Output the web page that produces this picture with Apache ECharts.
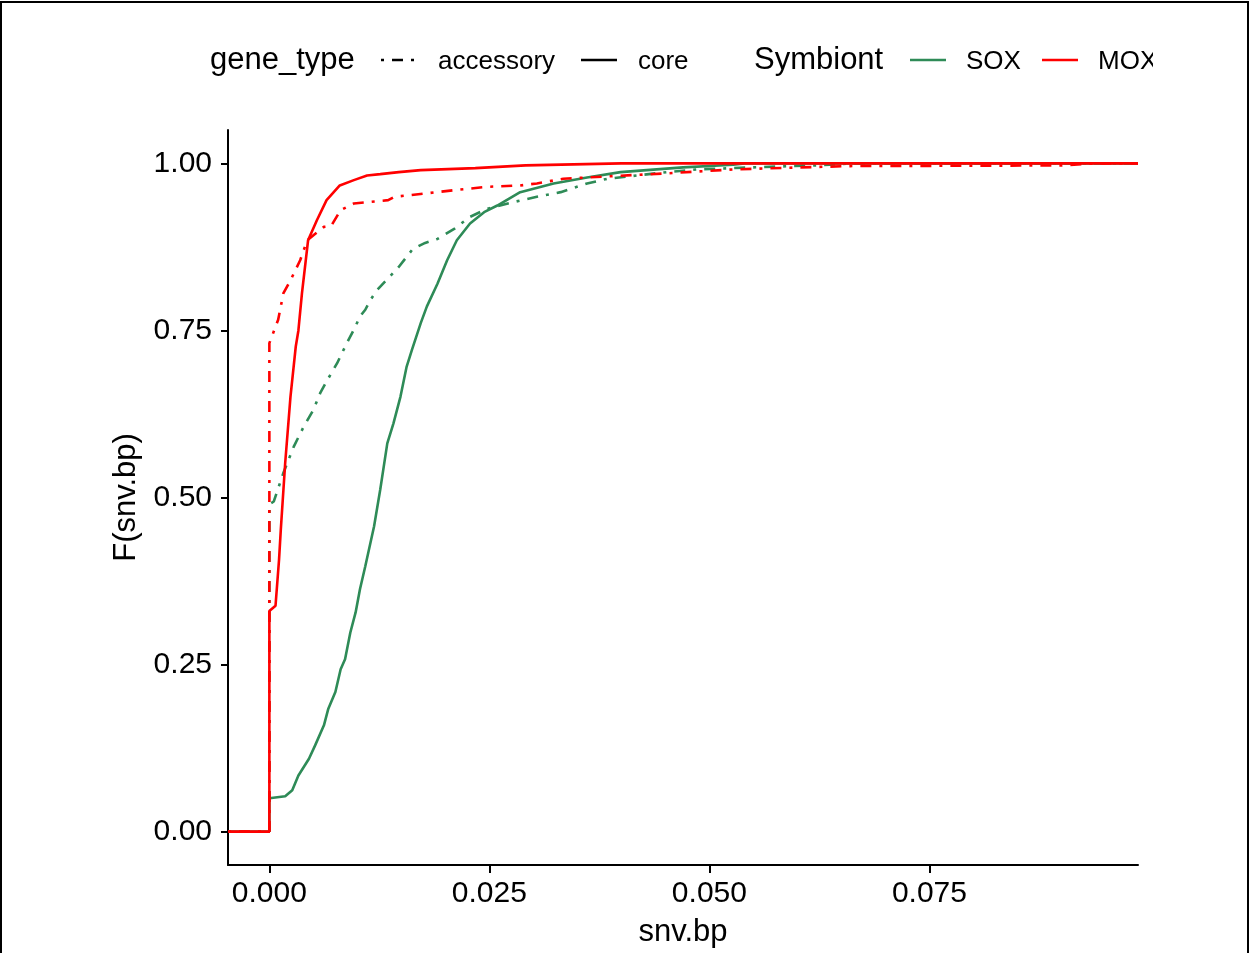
<!DOCTYPE html>
<html>
<head>
<meta charset="utf-8">
<script src="https://cdn.jsdelivr.net/npm/echarts@6/dist/echarts.min.js"></script>
<style>
  html, body { margin: 0; padding: 0; background: #fff; }
  #chart { width: 1249px; height: 953px; }
  #frame { position: absolute; left: 0; top: 1px; width: 1249px; height: 960px; box-sizing: border-box; border: 2px solid #000; pointer-events: none; }
</style>
</head>
<body>
<div id="chart"></div>
<div id="frame"></div>
<script>
// ECDF of snv.bp (x = snv.bp, y = F(snv.bp))
const X_MIN = -0.0047;
const X_MAX = 0.0987;

const soxCore = [
  [0, 0], [0, 0.05], [0.0018, 0.053], [0.0026, 0.062], [0.0033, 0.084], [0.0045, 0.109],
  [0.0052, 0.129], [0.0062, 0.159], [0.0067, 0.184], [0.0075, 0.209], [0.0081, 0.243],
  [0.0086, 0.258], [0.0092, 0.298], [0.0098, 0.328], [0.0103, 0.363], [0.0109, 0.397],
  [0.0119, 0.457], [0.0126, 0.512], [0.0134, 0.581], [0.0141, 0.611], [0.0149, 0.651],
  [0.0156, 0.696], [0.0162, 0.721], [0.0172, 0.761], [0.0179, 0.786], [0.0191, 0.82],
  [0.0202, 0.855], [0.0213, 0.885], [0.0228, 0.91], [0.0244, 0.927], [0.0259, 0.937],
  [0.0285, 0.957], [0.0323, 0.97], [0.0361, 0.979], [0.0399, 0.987], [0.047, 0.994],
  [0.0527, 0.998], [0.054, 1]
];
const soxAccessory = [
  [0, 0], [0, 0.49], [0.0005, 0.494], [0.0016, 0.537], [0.0028, 0.577], [0.0039, 0.606],
  [0.005, 0.631], [0.0058, 0.657], [0.0066, 0.676], [0.0077, 0.701], [0.0088, 0.731],
  [0.0096, 0.751], [0.0103, 0.771], [0.0109, 0.781], [0.0115, 0.796], [0.0122, 0.81],
  [0.0147, 0.845], [0.0163, 0.872], [0.0177, 0.881], [0.0191, 0.887], [0.021, 0.902],
  [0.0228, 0.92], [0.0247, 0.932], [0.0277, 0.942], [0.0304, 0.95], [0.0331, 0.957],
  [0.0361, 0.97], [0.0384, 0.977], [0.0452, 0.987], [0.0486, 0.991], [0.0527, 0.993],
  [0.0592, 0.996], [0.0623, 0.997], [0.066, 1]
];
const moxCore = [
  [0, 0], [0, 0.33], [0.0007, 0.338], [0.0011, 0.407], [0.0013, 0.452], [0.0018, 0.552],
  [0.0024, 0.651], [0.003, 0.726], [0.0033, 0.75], [0.0037, 0.805], [0.0044, 0.885],
  [0.0054, 0.915], [0.0065, 0.945], [0.008, 0.967], [0.0096, 0.975], [0.0111, 0.982],
  [0.0126, 0.984], [0.0147, 0.987], [0.0172, 0.99], [0.0234, 0.993], [0.0291, 0.997],
  [0.04, 1]
];
const moxAccessory = [
  [0, 0], [0, 0.731], [0.001, 0.766], [0.0016, 0.806], [0.0024, 0.825], [0.0035, 0.855],
  [0.0043, 0.885], [0.0062, 0.905], [0.007, 0.906], [0.0081, 0.93], [0.0096, 0.94],
  [0.0111, 0.942], [0.0135, 0.945], [0.0142, 0.95], [0.0177, 0.955], [0.021, 0.96],
  [0.0248, 0.965], [0.0285, 0.967], [0.0304, 0.97], [0.0334, 0.977], [0.0361, 0.979],
  [0.045, 0.985], [0.0527, 0.991], [0.0603, 0.994], [0.066, 0.996], [0.09, 0.997], [0.094, 1]
];

const xTicks = [0, 0.025, 0.05, 0.075];
const yTicks = [0, 0.25, 0.5, 0.75, 1];

const SOX_COLOR = '#2E8B57';
const MOX_COLOR = '#FF0000';
const DOTDASH = [3, 8, 11, 8];
const LINE_W = 2.6;
const FONT = 'Liberation Sans, Arial, sans-serif';

const chart = echarts.init(document.getElementById('chart'));

function ecdfSeries(name, data, color, dashed) {
  return {
    name,
    type: 'line',
    data: [[X_MIN, 0], ...data, [X_MAX, 1]],
    showSymbol: false,
    symbol: 'none',
    lineStyle: { color, width: LINE_W, type: dashed ? DOTDASH : 'solid', cap: 'butt' },
    silent: true
  };
}

// hand-made legend, same layout as the figure (the last label is cut off at the edge)
const legendY = 60;
const legend = [
  { type: 'text', left: 210, top: legendY - 15, style: { text: 'gene_type', font: `31px ${FONT}`, fill: '#000' } },
  { type: 'line', shape: { x1: 381, y1: legendY, x2: 417, y2: legendY }, style: { stroke: '#000', lineWidth: LINE_W, lineDash: DOTDASH } },
  { type: 'text', left: 438, top: legendY - 11, style: { text: 'accessory', font: `26px ${FONT}`, fill: '#000' } },
  { type: 'line', shape: { x1: 581, y1: legendY, x2: 617, y2: legendY }, style: { stroke: '#000', lineWidth: LINE_W } },
  { type: 'text', left: 638, top: legendY - 11, style: { text: 'core', font: `26px ${FONT}`, fill: '#000' } },
  { type: 'text', left: 754, top: legendY - 15, style: { text: 'Symbiont', font: `31px ${FONT}`, fill: '#000' } },
  { type: 'line', shape: { x1: 910, y1: legendY, x2: 946, y2: legendY }, style: { stroke: SOX_COLOR, lineWidth: LINE_W } },
  { type: 'text', left: 966, top: legendY - 11, style: { text: 'SOX', font: `26px ${FONT}`, fill: '#000' } },
  { type: 'line', shape: { x1: 1042, y1: legendY, x2: 1078, y2: legendY }, style: { stroke: MOX_COLOR, lineWidth: LINE_W } },
  { type: 'text', left: 1098, top: legendY - 11, style: { text: 'MOX', font: `26px ${FONT}`, fill: '#000' } },
  { type: 'rect', shape: { x: 1153, y: 20, width: 90, height: 80 }, style: { fill: '#fff' }, z: 100 }
];

chart.setOption({
  animation: false,
  backgroundColor: '#fff',
  textStyle: { fontFamily: FONT },
  grid: { left: 228, right: 111, top: 130, bottom: 87, containLabel: false },
  xAxis: {
    type: 'value',
    min: X_MIN,
    max: X_MAX,
    name: 'snv.bp',
    nameLocation: 'middle',
    nameGap: 52,
    nameTextStyle: { fontSize: 31, color: '#000', fontFamily: FONT },
    axisLine: { show: true, onZero: false, lineStyle: { color: '#000', width: 2 } },
    axisTick: { show: true, length: 8, lineStyle: { color: '#000', width: 2 }, customValues: xTicks },
    axisLabel: { fontSize: 30, color: '#000', margin: 14, customValues: xTicks, formatter: (v) => v.toFixed(3) },
    splitLine: { show: false }
  },
  yAxis: {
    type: 'value',
    min: -0.05,
    max: 1.05,
    name: 'F(snv.bp)',
    nameLocation: 'middle',
    nameGap: 86,
    nameTextStyle: { fontSize: 31, color: '#000', fontFamily: FONT },
    axisLine: { show: true, onZero: false, lineStyle: { color: '#000', width: 2 } },
    axisTick: { show: true, length: 7, lineStyle: { color: '#000', width: 2 }, customValues: yTicks },
    axisLabel: { fontSize: 30, color: '#000', margin: 16, customValues: yTicks, formatter: (v) => v.toFixed(2) },
    splitLine: { show: false }
  },
  graphic: legend,
  series: [
    ecdfSeries('SOX accessory', soxAccessory, SOX_COLOR, true),
    ecdfSeries('SOX core', soxCore, SOX_COLOR, false),
    ecdfSeries('MOX accessory', moxAccessory, MOX_COLOR, true),
    ecdfSeries('MOX core', moxCore, MOX_COLOR, false)
  ]
});
</script>
</body>
</html>
